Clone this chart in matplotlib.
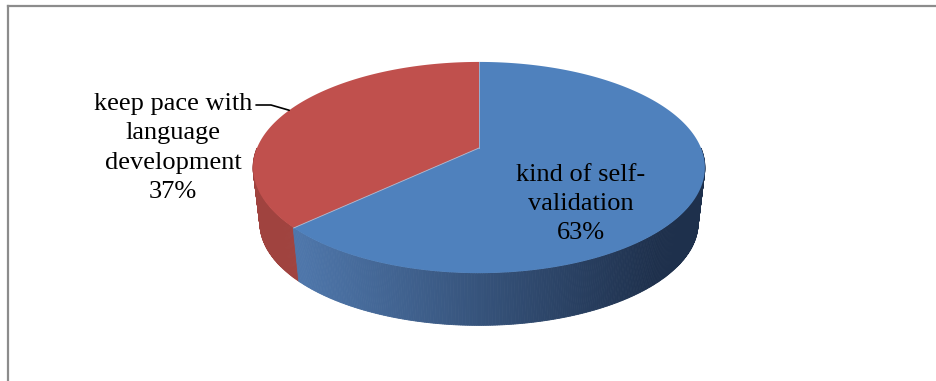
import numpy as np
import matplotlib.pyplot as plt
from matplotlib.patches import Polygon

# slice data, drawn clockwise from 12 o'clock like Excel
labels = ["kind of self-\nvalidation", "keep pace with\nlanguage\ndevelopment"]
shares = [63, 37]
top_colors = ["#4F81BD", "#C0504D"]
red_side = "#A0433F"
blue_side_left = np.array([78, 118, 170]) / 255
blue_side_right = np.array([30, 48, 76]) / 255

W, H = 936, 381
fig = plt.figure(figsize=(W / 100, H / 100), dpi=100)
ax = fig.add_axes([0, 0, 1, 1])
ax.set_xlim(0, W)
ax.set_ylim(H, 0)
ax.axis("off")

# projected disk: centre, radii, perspective factor, depth of the side
cx, cy = 479, 148
A, B, p = 222, 102, 0.185
s_bot, depth = 0.97, 56


def proj(theta, bottom=False):
    t = np.radians(theta)
    d = 1 + p * np.sin(t)
    x = A * np.cos(t) / d
    y = -B * np.sin(t) / d
    if bottom:
        return cx + s_bot * x, cy + depth + s_bot * y
    return cx + x, cy + y


fracs = np.array(shares) / sum(shares)
# red slice runs counter-clockwise from the top, blue fills the rest
seam = 90 + fracs[1] * 360

# side wall as thin strips, shaded left to right
ts = np.linspace(180, 360, 361)
for t0, t1 in zip(ts[:-1], ts[1:]):
    x0, y0 = proj(t0)
    x1, y1 = proj(t1)
    bx0, by0 = proj(t0, True)
    bx1, by1 = proj(t1, True)
    if t1 <= seam:
        col = red_side
    else:
        k = np.clip((x0 - 300) / (660 - 300), 0, 1)
        col = tuple(blue_side_left * (1 - k) + blue_side_right * k)
    ax.add_patch(Polygon([(x0, y0), (x1, y1), (bx1, by1), (bx0, by0)],
                         closed=True, facecolor=col, edgecolor=col, lw=0.6))

# top faces
tb = np.linspace(seam - 360, 90, 300)
bx, by = proj(tb)
ax.add_patch(Polygon(np.column_stack([np.r_[cx, bx], np.r_[cy, by]]),
                     closed=True, facecolor=top_colors[0], edgecolor="none"))
tr = np.linspace(90, seam, 200)
rx, ry = proj(tr)
ax.add_patch(Polygon(np.column_stack([np.r_[cx, rx], np.r_[cy, ry]]),
                     closed=True, facecolor=top_colors[1], edgecolor="none"))

# thin light seams between slices
for t in (90, seam):
    ex, ey = proj(t)
    ax.plot([cx, ex], [cy, ey], color="#A9BCD6", lw=0.7, alpha=0.8)

font = dict(family="Liberation Serif", fontsize=19, color="black",
            ha="center", va="center", linespacing=1.42)

ax.text(581, 204, f"{labels[0]}\n{shares[0]}%", **font)
ax.text(173, 148, f"{labels[1]}\n{shares[1]}%", **font)

# leader line to the middle of the red slice rim
mx, my = proj(90 + fracs[1] * 180)
ax.plot([256, 271, mx], [105, 105, my], color="black", lw=1.2,
        solid_capstyle="round")

# chart border (top and left edges visible)
ax.plot([8, W], [5.5, 5.5], color="#8C8C8C", lw=1.6)
ax.plot([8, 8], [5.5, H], color="#8C8C8C", lw=1.6)

fig.savefig("out.png", dpi=100, facecolor="white")
